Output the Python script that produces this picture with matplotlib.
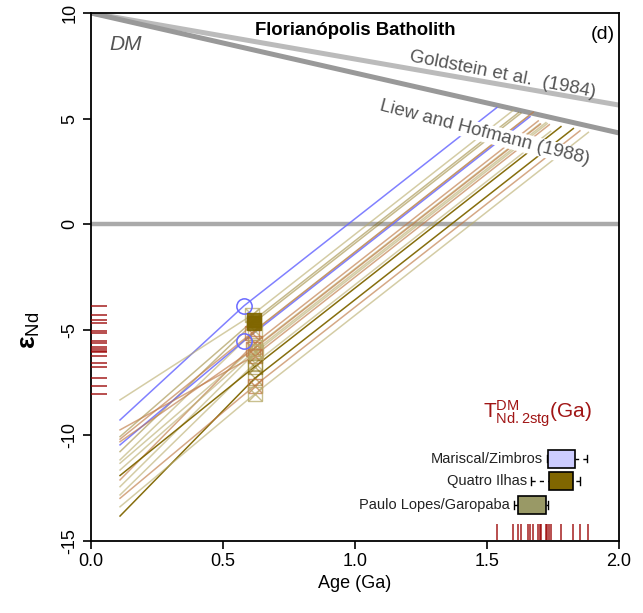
import matplotlib
matplotlib.use("Agg")
import matplotlib.pyplot as plt
import numpy as np

plt.rcParams['font.family'] = ['Liberation Sans', 'DejaVu Sans']
plt.rcParams['axes.unicode_minus'] = False
plt.rcParams['mathtext.fontset'] = 'custom'
plt.rcParams['mathtext.rm'] = 'Liberation Sans'
plt.rcParams['mathtext.it'] = 'Liberation Sans:italic'
plt.rcParams['mathtext.bf'] = 'Liberation Sans:bold'

# ---------------- data ----------------
# per-sample Nd evolution (age in Ga, epsilon Nd)
group = ['M', 'P', 'Q', 'Q', 'P', 'M', 'B', 'B', 'P', 'B',
         'P', 'P', 'B', 'P', 'O', 'O', 'B', 'P']
age_t = [0.58, 0.61, 0.617, 0.617, 0.62, 0.58, 0.61, 0.62, 0.62, 0.615,
         0.62, 0.625, 0.62, 0.62, 0.62, 0.62, 0.62, 0.62]
eps_t = [-3.86, -4.30, -4.54, -4.66, -5.04, -5.52, -5.14, -5.64, -5.83, -5.92,
         -6.00, -6.05, -6.23, -6.59, -6.75, -7.30, -7.65, -8.04]
age_start = 0.11
eps_start = [-9.27, -8.32, -10.06, -10.77, -11.16, -10.45, -10.18, -12.11, -11.32, -10.30,
             -11.64, -12.43, -9.74, -12.82, -11.90, -13.82, -12.98, -13.38]
tdm = [1.537, 1.599, 1.619, 1.628, 1.657, 1.663, 1.675, 1.694, 1.700, 1.703,
       1.723, 1.728, 1.736, 1.741, 1.780, 1.827, 1.852, 1.884]
eps_tdm = [5.52, 5.39, 5.28, 5.25, 5.12, 5.09, 5.30, 4.89, 4.75, 4.74,
           4.81, 4.76, 4.71, 4.40, 4.62, 4.53, 4.42, 4.35]

# depleted mantle reference lines (age, eps)
dm_age = [0.0, 2.0]
goldstein_eps = [10.0, 5.64]
liew_eps = [10.0, 4.32]

# T_DM two-stage box statistics
box_names = ['Mariscal/Zimbros', 'Quatro Ilhas', 'Paulo Lopes/Garopaba']
box_whislo = [1.726, 1.667, 1.602]
box_q1 = [1.732, 1.735, 1.619]
box_med = [1.764, 1.783, 1.697]
box_q3 = [1.833, 1.827, 1.722]
box_whishi = [1.877, 1.852, 1.730]
box_pos = [-11.1, -12.16, -13.3]
box_colors = ['#ccccff', '#806600', '#999966']

# ---------------- styles ----------------
line_col = {'M': '#6a6aff', 'Q': '#806600', 'O': '#806600', 'P': '#b8ab6a', 'B': '#bf7a45'}
line_alpha = {'M': 0.85, 'Q': 0.45, 'O': 0.95, 'P': 0.6, 'B': 0.65}

fig = plt.figure(figsize=(6.43, 6.13), dpi=100)
ax = fig.add_axes([0.1415, 0.1175, 0.8212, 0.8613])
ax.set_xlim(0, 2)
ax.set_ylim(-15, 10)

# reference lines
ax.plot([0, 2], [0, 0], color='#aaaaaa', lw=3.2, zorder=2, solid_capstyle='butt')
ax.plot(dm_age, goldstein_eps, color='#bbbbbb', lw=3.6, zorder=2, solid_capstyle='butt')
ax.plot(dm_age, liew_eps, color='#999999', lw=3.6, zorder=2, solid_capstyle='butt')

# sample lines
for g, t, e, es, td, ed in zip(group, age_t, eps_t, eps_start, tdm, eps_tdm):
    ax.plot([age_start, t, td], [es, e, ed], color=line_col[g], alpha=line_alpha[g],
            lw=1.1, zorder=3)

# markers
for g, t, e in zip(group, age_t, eps_t):
    c = line_col[g]
    if g == 'M':
        ax.plot(t, e, 'o', ms=11, mfc='none', mec=c, mew=1.1, zorder=5)
    elif g == 'Q':
        ax.plot(t, e, 's', ms=10.5, mfc=c, mec=c, alpha=0.9, zorder=5)
    else:
        a = 0.5 if g == 'O' else 0.75
        ax.plot(t, e, 's', ms=10.5, mfc='none', mec=c, mew=1.0, alpha=a, zorder=4)
        ax.plot(t, e, 'x', ms=10.5, mec=c, mew=1.0, alpha=a, zorder=4)

# rugs
for e in eps_t:
    ax.plot([0, 0.06], [e, e], color='#990000', alpha=0.75, lw=1.3, zorder=4,
            solid_capstyle='butt')
for td in tdm:
    ax.plot([td, td], [-14.95, -14.22], color='#990000', alpha=0.75, lw=1.3, zorder=4,
            solid_capstyle='butt')

# boxplots
stats = []
for n, lo, q1, md, q3, hi in zip(box_names, box_whislo, box_q1, box_med, box_q3, box_whishi):
    stats.append(dict(label=n, whislo=lo, q1=q1, med=md, q3=q3, whishi=hi, fliers=[]))
bp = ax.bxp(stats, positions=box_pos, widths=0.85, orientation='horizontal',
            patch_artist=True, manage_ticks=False, capwidths=0.35,
            boxprops=dict(edgecolor='black', linewidth=1.2),
            medianprops=dict(color='black', linewidth=1.6),
            whiskerprops=dict(color='black', linewidth=1.0, linestyle=(0, (3, 3))),
            capprops=dict(color='black', linewidth=1.0))
for patch, c in zip(bp['boxes'], box_colors):
    patch.set_facecolor(c)
    patch.set_zorder(6)
for ln in bp['whiskers']:
    x, y = ln.get_data()
    ln.set_data(np.asarray(x)[::-1], np.asarray(y)[::-1])
for n, lo, p in zip(box_names, box_whislo, box_pos):
    ax.annotate(n, (lo, p), xytext=(-3, 0), textcoords='offset points',
                ha='right', va='center', fontsize=10.5, color='#222222', zorder=7)

ax.text(1.69, -8.95, r'$\mathrm{T}_{\mathrm{Nd.2stg}}^{\mathrm{DM}}$(Ga)', color='#a01515',
        fontsize=15, ha='center', va='center')

# annotations
ax.text(1.0, 9.15, 'Florianópolis Batholith', fontweight='bold', fontsize=13.3,
        ha='center', va='center')
ax.text(1.94, 8.96, '(d)', fontsize=14, ha='center', va='center')
ax.text(0.13, 8.5, 'DM', fontstyle='italic', fontsize=15, color='#555555',
        ha='center', va='center')
ax.text(1.56, 7.06, 'Goldstein et al.  (1984)', fontsize=13.5, color='#555555',
        rotation=-11, ha='center', va='center', rotation_mode='anchor', zorder=8)
ax.text(1.49, 4.32, 'Liew and Hofmann (1988)', fontsize=13.5, color='#555555',
        rotation=-14.5, ha='center', va='center', rotation_mode='anchor', zorder=8,
        bbox=dict(facecolor='white', edgecolor='none', pad=0.5))

# axes styling
ax.set_xticks([0, 0.5, 1.0, 1.5, 2.0])
ax.set_xticklabels(['0.0', '0.5', '1.0', '1.5', '2.0'])
ax.set_yticks([-15, -10, -5, 0, 5, 10])
ax.set_yticklabels(['-15', '-10', '-5', '0', '5', '10'], rotation=90, va='center')
ax.tick_params(direction='out', length=6, width=1.2, labelsize=13, pad=3)
for s in ax.spines.values():
    s.set_linewidth(1.3)
ax.set_xlabel('Age (Ga)', fontsize=13, labelpad=3)
fig.text(30 / 643, 1 - 330 / 613, r'$\mathbf{\varepsilon}_{\mathrm{Nd}}$', fontsize=19,
         rotation=90, ha='center', va='center')

fig.savefig('out.png', dpi=100)
